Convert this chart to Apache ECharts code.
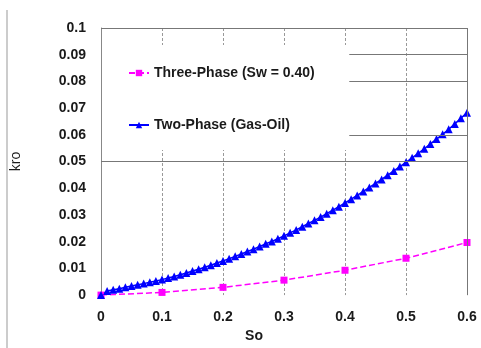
<!DOCTYPE html>
<html>
<head>
<meta charset="utf-8">
<script src="https://cdn.jsdelivr.net/npm/echarts@6/dist/echarts.min.js"></script>
<style>
  html, body { margin: 0; padding: 0; background: #fff; }
  #chart { width: 481px; height: 348px; }
</style>
</head>
<body>
<div id="chart"></div>
<script>
// So values
var soThree = [0, 0.1, 0.2, 0.3, 0.4, 0.5, 0.6];
var kroThree = [0, 0.001, 0.0029, 0.0056, 0.0093, 0.0138, 0.0197];

var soTwo = [];
for (var i = 0; i <= 60; i++) soTwo.push(+(i / 100).toFixed(2));
var kroTwo = [
  0.0000, 0.0015, 0.0020, 0.0024, 0.0029, 0.0034, 0.0039, 0.0043, 0.0048, 0.0053,
  0.0058, 0.0064, 0.0070, 0.0076, 0.0083, 0.0090, 0.0097, 0.0104, 0.0112, 0.0120,
  0.0128, 0.0136, 0.0145, 0.0154, 0.0163, 0.0172, 0.0182, 0.0192, 0.0201, 0.0211,
  0.0222, 0.0233, 0.0244, 0.0256, 0.0268, 0.0280, 0.0292, 0.0305, 0.0318, 0.0331,
  0.0345, 0.0359, 0.0373, 0.0388, 0.0403, 0.0418, 0.0433, 0.0449, 0.0465, 0.0481,
  0.0497, 0.0514, 0.0531, 0.0548, 0.0566, 0.0584, 0.0602, 0.0621, 0.0641, 0.0662,
  0.0683
];

var seriesNames = ['Three-Phase (Sw = 0.40)', 'Two-Phase (Gas-Oil)'];

function pairs(xs, ys) {
  return xs.map(function (x, k) { return [x, ys[k]]; });
}

var font = 'Liberation Sans, Arial, sans-serif';
var myChart = echarts.init(document.getElementById('chart'));

myChart.setOption({
  animation: false,
  backgroundColor: '#fff',
  textStyle: { fontFamily: font },
  grid: { left: 101, right: 14, top: 28, bottom: 52, containLabel: false },
  graphic: [
    { type: 'line', shape: { x1: 7, y1: 10, x2: 7, y2: 348 }, style: { stroke: '#999', lineWidth: 1 } },
    // white box behind the legend, hides the grid lines there
    { type: 'rect', z: 3, shape: { x: 102, y: 45, width: 248, height: 105 }, style: { fill: '#fff' } }
  ],
  legend: {
    orient: 'vertical',
    left: 101,
    top: 45,
    padding: [21, 20, 16, 27],
    itemGap: 38,
    itemWidth: 20,
    itemHeight: 8,
    data: seriesNames,
    z: 5,
    textStyle: { fontFamily: font, fontSize: 14, fontWeight: 'bold', color: '#1a1a1a' }
  },
  xAxis: {
    type: 'value',
    min: 0,
    max: 0.6,
    interval: 0.1,
    name: 'So',
    nameLocation: 'middle',
    nameGap: 33,
    nameTextStyle: { fontFamily: font, fontSize: 14, fontWeight: 'bold', color: '#1a1a1a', padding: [0, 60, 0, 0] },
    axisLine: { show: false },
    axisTick: { show: false },
    axisLabel: { margin: 15, fontFamily: font, fontSize: 14, fontWeight: 'bold', color: '#1a1a1a' },
    splitLine: { show: true, lineStyle: { color: '#999', type: [3, 2], width: 1 } }
  },
  yAxis: {
    type: 'value',
    min: 0,
    max: 0.1,
    interval: 0.01,
    name: 'kro',
    nameLocation: 'middle',
    nameGap: 78,
    nameTextStyle: { fontFamily: font, fontSize: 14, color: '#1a1a1a' },
    axisLine: { show: true, lineStyle: { color: '#888', width: 1 } },
    axisTick: { show: false },
    axisLabel: { margin: 15, fontFamily: font, fontSize: 14, fontWeight: 'bold', color: '#1a1a1a' },
    splitLine: { show: false }
  },
  series: [
    {
      name: seriesNames[0],
      type: 'line',
      data: pairs(soThree, kroThree),
      symbol: 'rect',
      symbolSize: 7,
      color: '#ff00ff',
      lineStyle: { color: '#ff00ff', width: 1.5, type: [6, 3] },
      itemStyle: { color: '#ff00ff' },
      z: 4,
      markLine: {
        silent: true,
        symbol: 'none',
        label: { show: false },
        lineStyle: { color: '#777', type: 'solid', width: 1 },
        data: [
          { yAxis: 0.1 },
          { xAxis: 0.6 },
          { yAxis: 0.05 },
          [{ coord: [0.407, 0.09] }, { coord: [0.6, 0.09] }],
          [{ coord: [0.407, 0.08] }, { coord: [0.6, 0.08] }],
          [{ coord: [0.407, 0.06] }, { coord: [0.6, 0.06] }]
        ]
      }
    },
    {
      name: seriesNames[1],
      type: 'line',
      data: pairs(soTwo, kroTwo),
      symbol: 'triangle',
      symbolSize: 8,
      color: '#0000ff',
      lineStyle: { color: '#0000ff', width: 1.5 },
      itemStyle: { color: '#0000ff' },
      z: 4
    }
  ]
});
</script>
</body>
</html>
